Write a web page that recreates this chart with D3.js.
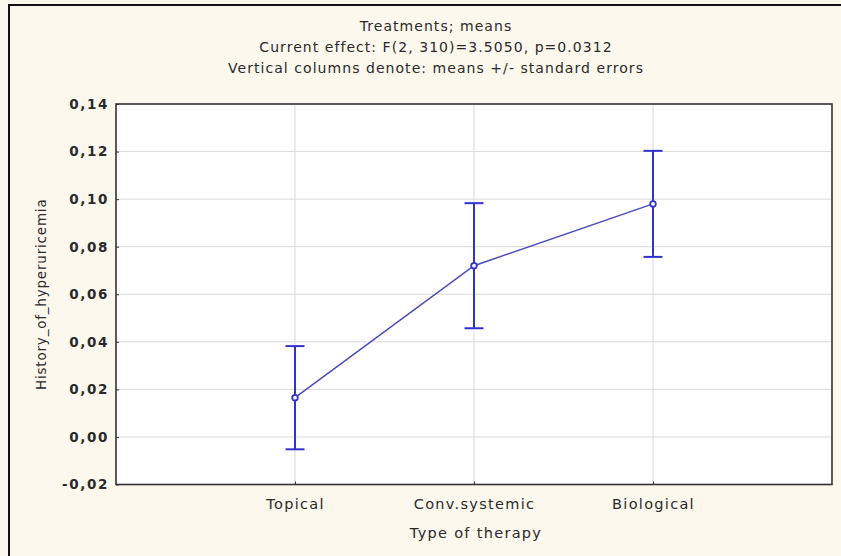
<!DOCTYPE html>
<html>
<head>
<meta charset="utf-8">
<script src="https://cdn.jsdelivr.net/npm/d3@7"></script>
<style>
  html, body { margin: 0; padding: 0; background: #fdf8ee; }
  svg { display: block; }
  text { font-family: "DejaVu Sans", Verdana, sans-serif; fill: #2a2a2a; }
</style>
</head>
<body>
<svg id="chart" width="841" height="556"></svg>
<script>
// Group means of History_of_hyperuricemia by type of therapy, with standard errors
const categories = ["Topical", "Conv.systemic", "Biological"];
const means = [0.0165, 0.072, 0.098];
const stdErrors = [0.0217, 0.0263, 0.0223];
const yTicks = [-0.02, 0, 0.02, 0.04, 0.06, 0.08, 0.10, 0.12, 0.14];
const titleLines = [
  "Treatments; means",
  "Current effect: F(2, 310)=3.5050, p=0.0312",
  "Vertical columns denote: means +/- standard errors"
];
const xTitle = "Type of therapy";
const yTitle = "History_of_hyperuricemia";

const W = 841, H = 556;
const plot = { left: 116, right: 832, top: 104, bottom: 484.5 };
const ink = "#3333cc";

const svg = d3.select("#chart");

// page background and frame
svg.append("rect").attr("width", W).attr("height", H).attr("fill", "#fdf8ee");
svg.append("rect")
  .attr("x", plot.left).attr("y", plot.top)
  .attr("width", plot.right - plot.left).attr("height", plot.bottom - plot.top)
  .attr("fill", "#ffffff");
svg.append("line").attr("x1", 9).attr("x2", W).attr("y1", 5).attr("y2", 5)
  .attr("stroke", "#111").attr("stroke-width", 2);
svg.append("line").attr("x1", 9).attr("x2", 9).attr("y1", 4).attr("y2", H)
  .attr("stroke", "#111").attr("stroke-width", 2);

const x = d3.scalePoint().domain(categories).range([plot.left, plot.right]).padding(1);
const y = d3.scaleLinear().domain([-0.02, 0.14]).range([plot.bottom, plot.top]);
const fmt = v => d3.format(".2f")(v).replace(".", ",").replace("−", "-");

// gridlines
svg.append("g").selectAll("line").data(yTicks.slice(1, -1)).join("line")
  .attr("x1", plot.left).attr("x2", plot.right)
  .attr("y1", d => y(d)).attr("y2", d => y(d))
  .attr("stroke", "#d9d9d9").attr("stroke-width", 1);
svg.append("g").selectAll("line").data(categories).join("line")
  .attr("x1", d => x(d)).attr("x2", d => x(d))
  .attr("y1", plot.top).attr("y2", plot.bottom)
  .attr("stroke", "#d9d9d9").attr("stroke-width", 1);

// axes (inward ticks)
const yAxis = svg.append("g").attr("transform", `translate(${plot.left},0)`)
  .call(d3.axisLeft(y).tickValues(yTicks).tickFormat(fmt).tickSize(-3).tickPadding(7));
yAxis.select(".domain").remove();
yAxis.selectAll("line").attr("stroke", "#333");
yAxis.selectAll("text").attr("font-size", 13.5).attr("fill", "#333")
  .style("font-weight", "600").attr("letter-spacing", 1.6);

const xAxis = svg.append("g").attr("transform", `translate(0,${plot.bottom})`)
  .call(d3.axisBottom(x).tickSize(-3).tickPadding(14));
xAxis.select(".domain").remove();
xAxis.selectAll("line").attr("stroke", "#333");
xAxis.selectAll("text").attr("font-size", 14.5).attr("fill", "#333")
  .attr("letter-spacing", 1.3);

// plot frame
svg.append("rect")
  .attr("x", plot.left).attr("y", plot.top)
  .attr("width", plot.right - plot.left).attr("height", plot.bottom - plot.top)
  .attr("fill", "none").attr("stroke", "#333").attr("stroke-width", 1.6);

// titles
svg.append("g").selectAll("text").data(titleLines).join("text")
  .attr("x", 436).attr("y", (d, i) => 31 + i * 21)
  .attr("text-anchor", "middle").attr("font-size", 14).attr("letter-spacing", 1.05)
  .text(d => d);
svg.append("text").attr("x", 476).attr("y", 538).attr("text-anchor", "middle")
  .attr("font-size", 14.5).attr("letter-spacing", 1.3).text(xTitle);
svg.append("text")
  .attr("transform", `translate(46,${(plot.top + plot.bottom) / 2}) rotate(-90)`)
  .attr("text-anchor", "middle").attr("font-size", 13.5).attr("letter-spacing", 0.8)
  .text(yTitle);

// series
const pts = categories.map((c, i) => ({ c, m: means[i], se: stdErrors[i] }));

svg.append("path").datum(pts)
  .attr("d", d3.line().x(d => x(d.c)).y(d => y(d.m)))
  .attr("fill", "none").attr("stroke", "#4a4ac0").attr("stroke-width", 1.5);

const bars = svg.append("g").selectAll("g").data(pts).join("g")
  .attr("stroke", ink).attr("stroke-width", 2);
bars.append("line")
  .attr("x1", d => x(d.c)).attr("x2", d => x(d.c))
  .attr("y1", d => y(d.m + d.se)).attr("y2", d => y(d.m - d.se));
bars.append("line")
  .attr("x1", d => x(d.c) - 9.5).attr("x2", d => x(d.c) + 9.5)
  .attr("y1", d => y(d.m + d.se)).attr("y2", d => y(d.m + d.se));
bars.append("line")
  .attr("x1", d => x(d.c) - 9.5).attr("x2", d => x(d.c) + 9.5)
  .attr("y1", d => y(d.m - d.se)).attr("y2", d => y(d.m - d.se));

svg.append("g").selectAll("circle").data(pts).join("circle")
  .attr("cx", d => x(d.c)).attr("cy", d => y(d.m)).attr("r", 2.8)
  .attr("fill", "#ffffff").attr("stroke", ink).attr("stroke-width", 1.8);
</script>
</body>
</html>
